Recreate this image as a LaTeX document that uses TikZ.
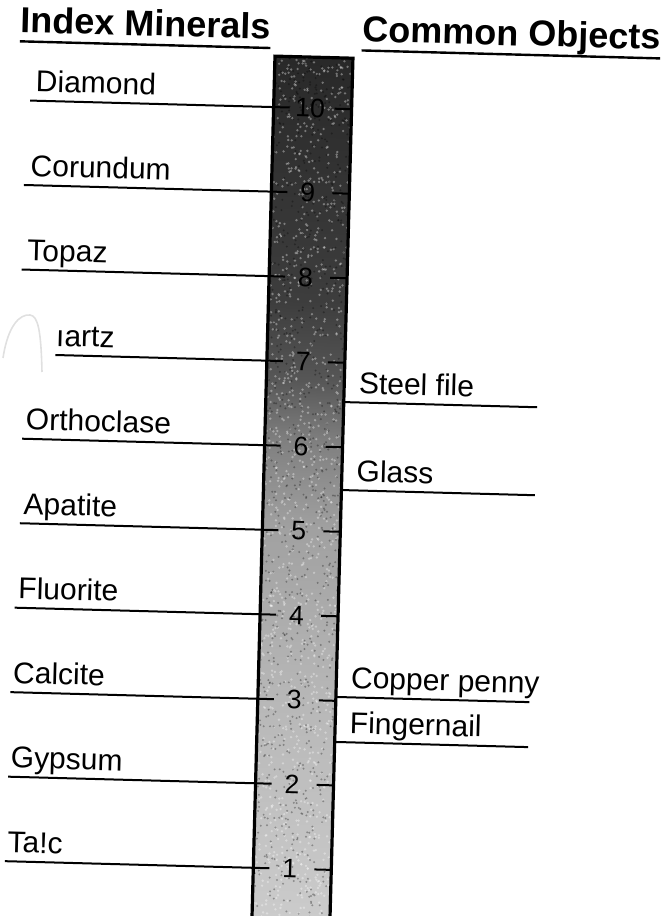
\documentclass[tikz,border=0pt]{standalone}
\usepackage{fontspec}
\setmainfont{Liberation Sans}
\usetikzlibrary{calc}
\pgfdeclareverticalshading{hardness}{100bp}{color(0bp)=(black!20); color(25bp)=(black!20); color(38bp)=(black!28); color(48bp)=(black!37); color(53bp)=(black!50); color(56.5bp)=(black!66); color(61bp)=(black!76); color(75bp)=(black!84); color(100bp)=(black!84)}
\tikzstyle{mineral} = [anchor=base west, inner sep=0pt, font=\fontsize{22.5}{27}\selectfont]
\tikzstyle{object} = [anchor=base west, inner sep=0pt, font=\fontsize{22.5}{27}\selectfont]
\tikzstyle{heading} = [anchor=base west, inner sep=0pt, font=\fontsize{27}{32}\selectfont\bfseries]
\tikzstyle{digit} = [inner sep=0pt, font=\fontsize{20}{24}\selectfont]
\tikzstyle{leader} = [line width=1.5pt]

\begin{document}
\begin{tikzpicture}[x=0.75pt, y=-0.75pt]
    \useasboundingbox (0,0) rectangle (665,916);
    \begin{scope}[transform canvas={rotate around={-1.53:(302.5,486.5)}}]
    % Headings
    \node[heading] (minhead) at (8,40) {Index Minerals};
    \node[heading] (objhead) at (350,40) {Common Objects};
    \draw[line width=1.8pt] ($(minhead.base west)+(0,9)$) -- ($(minhead.base east)+(0,9)$);
    \draw[line width=1.8pt] ($(objhead.base west)+(0,9)$) -- ($(objhead.base east)+(0,9)$);

    % Hardness bar
    \shade[shading=hardness] (263.5,57) rectangle (341.5,930);
    \begin{scope}
        \clip (263.5,57) rectangle (341.5,930);
        \pgfmathsetseed{7}
        \foreach \k in {1,...,1200}
            \fill[white, opacity=0.35] (263.5+78*rnd, 57+873*rnd) circle (1.3);
        \foreach \k in {1,...,900}
            \fill[black, opacity=0.3] (263.5+78*rnd, 57+873*rnd) circle (1.1);
    \end{scope}
    \draw[line width=2.4pt] (263.5,930) -- (263.5,57) -- (341.5,57) -- (341.5,930);

    % Scale marks
    \foreach \n in {1,...,10} {
        \pgfmathsetmacro{\yy}{869-84.56*(\n-1)}
        \coordinate (L\n) at (263.5,\yy);
        \coordinate (R\n) at (341.5,\yy);
        \node[digit] (d\n) at (300,\yy) {\n};
        \draw[leader] (R\n) -- ++(-17,0);
    }

    % Index minerals
    \foreach \n/\name/\sx/\tx in {10/Diamond/20/25, 9/Corundum/16/22, 8/Topaz/16/21, 7/ıartz/52/52, 6/Orthoclase/21/24, 5/Apatite/21/24, 4/Fluorite/18/21, 3/Calcite/16/18, 2/Gypsum/16/18, 1/Ta!c/15/17} {
        \pgfmathsetmacro{\yy}{869-84.56*(\n-1)}
        \coordinate (s\n) at (\sx,\yy);
        \node[mineral] (m\n) at (\tx,\yy-9) {\name};
        \draw[leader] (s\n) -- (L\n) -- ++(16,0);
    }

    % Common objects
    \foreach \i/\name/\yy in {1/Steel file/401, 2/Glass/489, 3/Copper penny/696, 4/Fingernail/741} {
        \coordinate (o\i) at (341.5,\yy);
        \coordinate (e\i) at (535,\yy);
        \node[object] (obj\i) at (356,\yy-9) {\name};
        \draw[leader] (o\i) -- (e\i);
    }
    \end{scope}

    % faint mark of the scan
    \draw[black!12, line width=1.2pt] (3,358) .. controls (8,325) and (20,314) .. (30,315) .. controls (38,316) and (41,330) .. (42,372);
\end{tikzpicture}
\end{document}
